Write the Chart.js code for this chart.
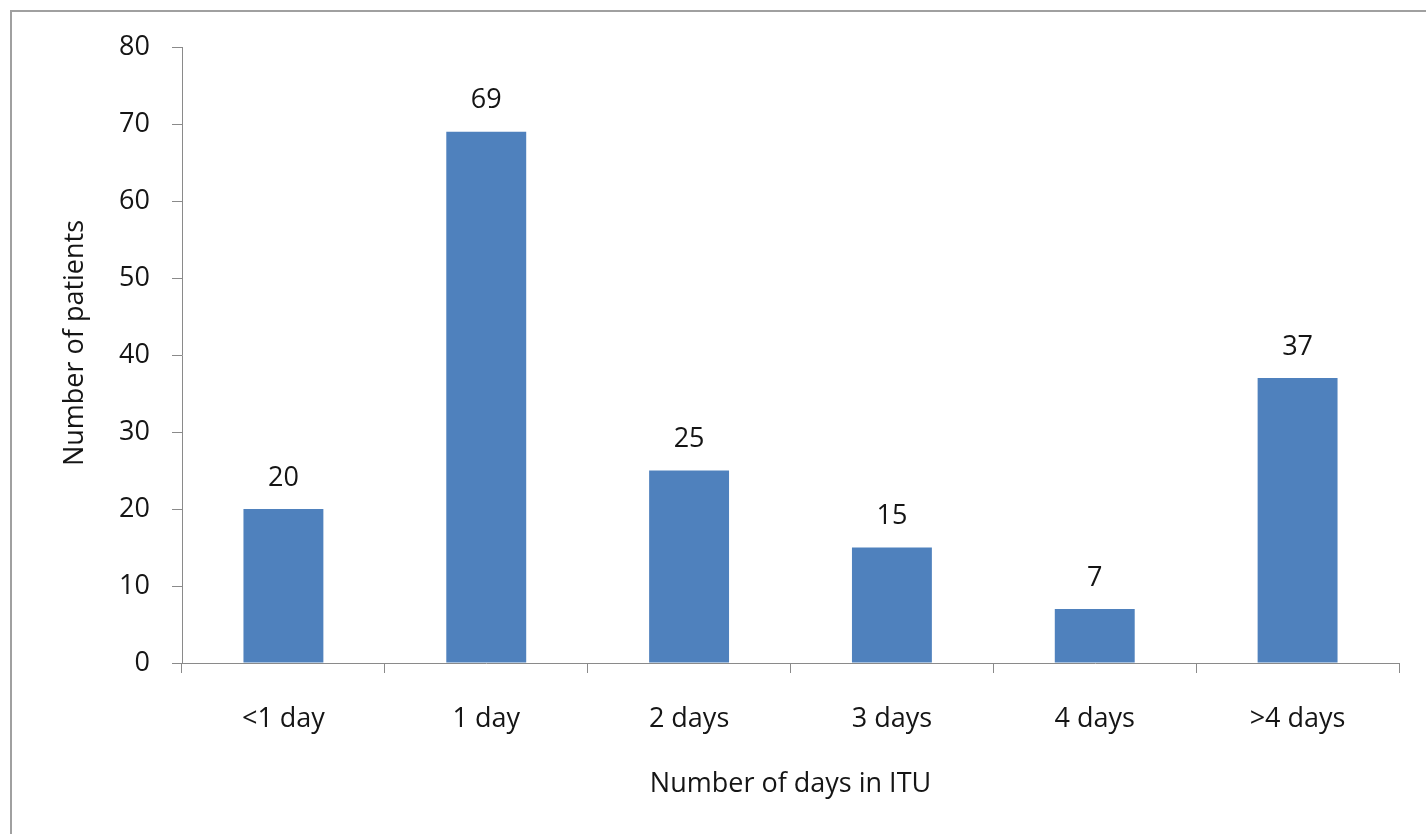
<!DOCTYPE html>
<html>
<head>
<meta charset="utf-8">
<script src="https://cdn.jsdelivr.net/npm/chart.js@4"></script>
<style>
  html, body { margin: 0; padding: 0; background: #fff; }
  #wrap { position: relative; width: 1426px; height: 834px; }
  #frame { position: absolute; left: 10px; top: 10px; right: -4px; bottom: -4px; border-left: 2px solid #a0a0a0; border-top: 2px solid #a0a0a0; pointer-events: none; }
  canvas { position: absolute; left: 0; top: 0; }
</style>
</head>
<body>
<div id="wrap">
  <canvas id="c" width="1426" height="834"></canvas>
  <div id="frame"></div>
</div>
<script>
const categories = ['<1 day', '1 day', '2 days', '3 days', '4 days', '>4 days'];
const patients = [20, 69, 25, 15, 7, 37];
const yTicks = [0, 10, 20, 30, 40, 50, 60, 70, 80];
const xTitle = 'Number of days in ITU';
const yTitle = 'Number of patients';

const FONT = '"Open Sans", Lato, sans-serif';
const FS = 27;
const TEXT = '#151515';
const AXIS = '#8a8a8a';

const extras = {
  id: 'extras',
  afterDatasetsDraw(chart) {
    const ctx = chart.ctx;
    const meta = chart.getDatasetMeta(0);
    ctx.save();
    ctx.font = FS + 'px ' + FONT;
    ctx.fillStyle = TEXT;
    ctx.textAlign = 'center';
    ctx.textBaseline = 'middle';
    meta.data.forEach((bar, i) => {
      ctx.fillText(String(patients[i]), bar.x, bar.y - 31);
    });
    // y-axis title, placed slightly above the plot centre as in the reference
    const ca = chart.chartArea;
    ctx.translate(75, (ca.top + ca.bottom) / 2 - 12);
    ctx.rotate(-Math.PI / 2);
    ctx.fillText(yTitle, 0, 0);
    ctx.restore();
  }
};

new Chart(document.getElementById('c'), {
  type: 'bar',
  data: {
    labels: categories,
    datasets: [{
      data: patients,
      backgroundColor: '#4F81BD',
      borderWidth: 0,
      categoryPercentage: 1,
      barPercentage: 0.394
    }]
  },
  options: {
    responsive: false,
    animation: false,
    events: [],
    layout: { padding: { top: 47, right: 27, bottom: 0, left: 0 } },
    plugins: { legend: { display: false }, tooltip: { enabled: false } },
    scales: {
      x: {
        afterFit(s) { s.height = 171; },
        grid: { offset: true, drawOnChartArea: false, tickLength: 10, color: AXIS, tickColor: AXIS },
        border: { color: AXIS, width: 1 },
        ticks: { color: TEXT, font: { family: FONT, size: FS }, padding: 30, maxRotation: 0 },
        title: { display: true, text: xTitle, color: TEXT, font: { family: FONT, size: FS }, padding: { top: 0, bottom: 33 } }
      },
      y: {
        min: 0, max: 80,
        afterFit(s) { s.width = 182; },
        afterBuildTicks(s) { s.ticks = yTicks.map(v => ({ value: v })); },
        grid: { drawOnChartArea: false, tickLength: 10, color: AXIS, tickColor: AXIS },
        border: { color: AXIS, width: 1 },
        ticks: { color: TEXT, font: { family: FONT, size: FS }, padding: 22 },
        title: { display: false }
      }
    }
  },
  plugins: [extras]
});
</script>
</body>
</html>
